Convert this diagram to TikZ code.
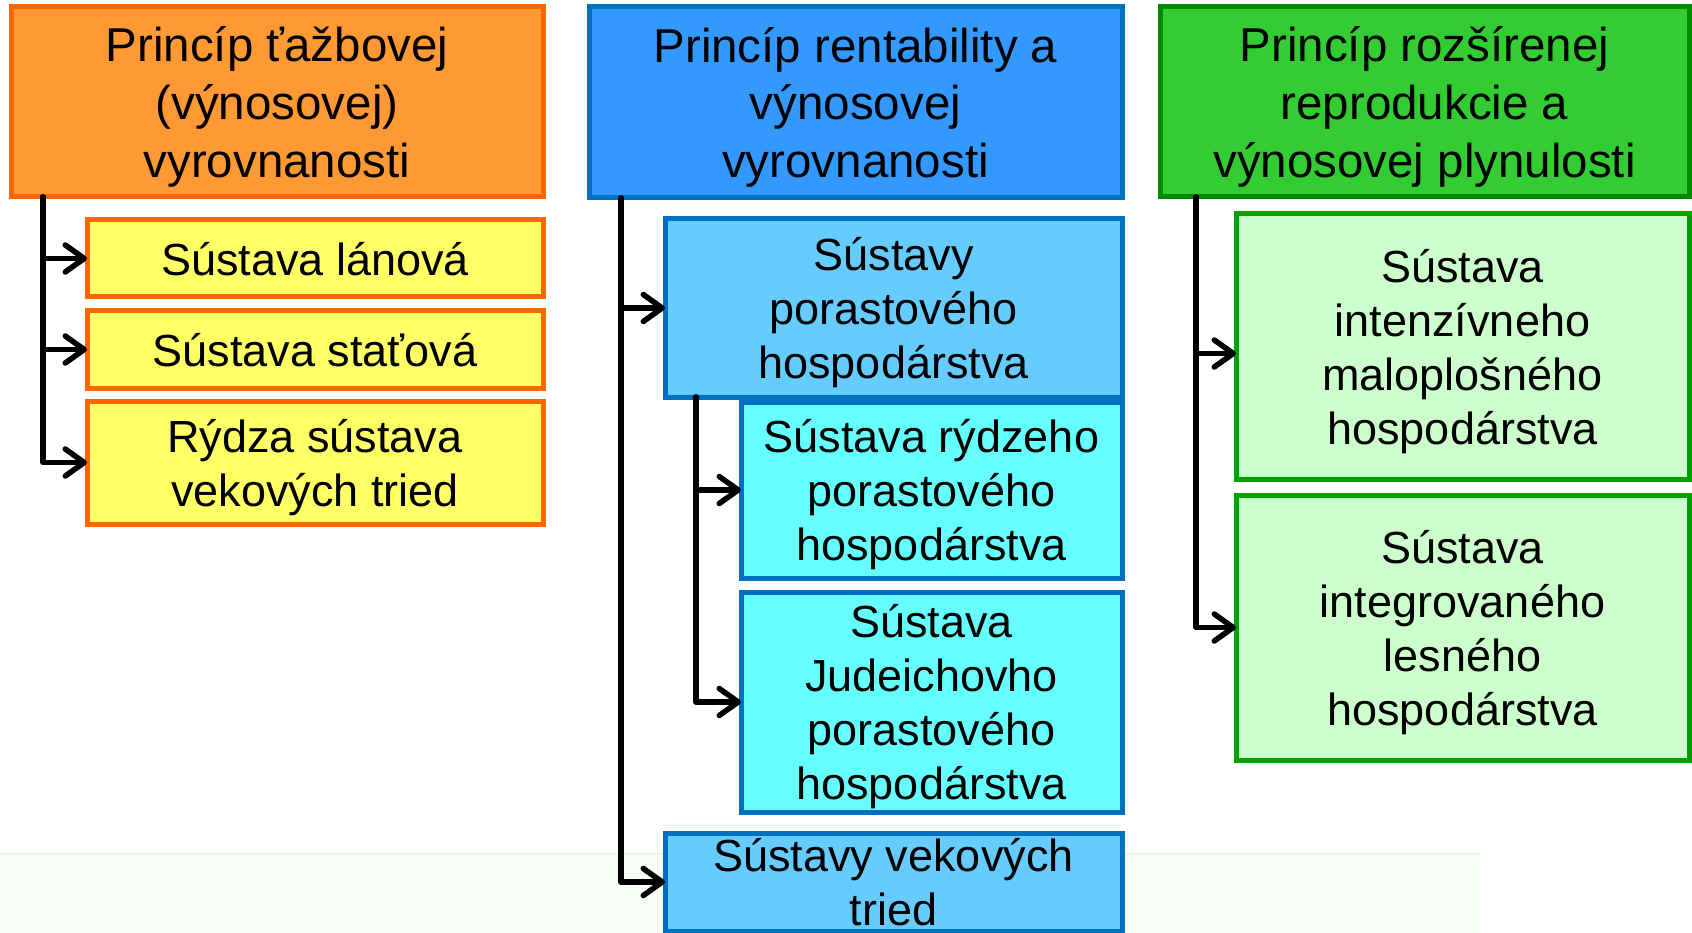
\documentclass[tikz,border=0pt]{standalone}
\usepackage{fontspec}
\setmainfont{Liberation Sans}
\usetikzlibrary{arrows.meta}
\definecolor{orfill}{HTML}{FF9933}
\definecolor{orline}{HTML}{FF6600}
\definecolor{yelfill}{HTML}{FFFF66}
\definecolor{bluefill}{HTML}{3399FF}
\definecolor{blueline}{HTML}{0070C0}
\definecolor{lbfill}{HTML}{66CCFF}
\definecolor{cyfill}{HTML}{66FFFF}
\definecolor{grfill}{HTML}{33CC33}
\definecolor{grline}{HTML}{008A00}
\definecolor{lgfill}{HTML}{CCFFCC}
\definecolor{lgline}{HTML}{00A000}
\definecolor{bgtint}{HTML}{F8FCF6}
\definecolor{bgline}{HTML}{E2F6E2}
\begin{document}
\begin{tikzpicture}[x=1pt,y=-1pt,
  box/.style={draw, line width=5pt, rectangle, inner sep=0pt, outer sep=0pt, anchor=north west, align=center, text=black, text depth=0pt},
  titlebox/.style={box, font=\fontsize{47.5}{57.7}\selectfont},
  subbox/.style={box, font=\fontsize{45}{54}\selectfont},
  conn/.style={line width=5.5pt, -{Straight Barb[length=19pt,width=27pt,round]}, line join=round, line cap=round},
]
\useasboundingbox (0,0) rectangle (1692,933);
% faint background band
\fill[bgtint] (0,853) rectangle (1480,933);
\draw[bgline, line width=1pt] (0,853) -- (1480,853);

% column 1
\node[titlebox, fill=orfill, draw=orline, minimum width=532, minimum height=190] (P1) at (11,7) {Princíp ťažbovej\\(výnosovej)\\vyrovnanosti};
\node[subbox, fill=yelfill, draw=orline, minimum width=456, minimum height=77] (Y1) at (87,220) {Sústava lánová};
\node[subbox, fill=yelfill, draw=orline, minimum width=456, minimum height=77] (Y2) at (87,311) {Sústava staťová};
\node[subbox, fill=yelfill, draw=orline, minimum width=456, minimum height=123] (Y3) at (87,401) {Rýdza sústava\\vekových tried};

% column 2
\node[titlebox, fill=bluefill, draw=blueline, minimum width=533, minimum height=191] (P2) at (589,7) {Princíp rentability a\\výnosovej\\vyrovnanosti};
\node[subbox, fill=lbfill, draw=blueline, minimum width=457, minimum height=178] (B1) at (665,219) {Sústavy\\porastového\\hospodárstva};
\node[subbox, fill=cyfill, draw=blueline, minimum width=381, minimum height=176] (C1) at (741,402) {Sústava rýdzeho\\porastového\\hospodárstva};
\node[subbox, fill=cyfill, draw=blueline, minimum width=381, minimum height=220] (C2) at (741,592) {Sústava\\Judeichovho\\porastového\\hospodárstva};
\node[subbox, fill=lbfill, draw=blueline, minimum width=457, minimum height=98] (B2) at (665,833) {Sústavy vekových\\tried};

% column 3
\node[titlebox, fill=grfill, draw=grline, minimum width=529, minimum height=190] (P3) at (1160,7) {Princíp rozšírenej\\reprodukcie a\\výnosovej plynulosti};
\node[subbox, fill=lgfill, draw=lgline, minimum width=453, minimum height=265] (G1) at (1236,214) {Sústava\\intenzívneho\\maloplošného\\hospodárstva};
\node[subbox, fill=lgfill, draw=lgline, minimum width=453, minimum height=265] (G2) at (1236,495) {Sústava\\integrovaného\\lesného\\hospodárstva};

% connectors
\coordinate (s1) at (43,197);
\coordinate (s2) at (621,198);
\coordinate (s2b) at (696,397);
\coordinate (s3) at (1196,197);
\coordinate (g1in) at ([yshift=-7pt]G1.west);

\draw[conn] (s1) |- (Y1.west);
\draw[conn] (s1) |- (Y2.west);
\draw[conn] (s1) |- (Y3.west);

\draw[conn] (s2) |- (B1.west);
\draw[conn] (s2) |- (B2.west);
\draw[conn] (s2b) |- (C1.west);
\draw[conn] (s2b) |- (C2.west);

\draw[conn] (s3) |- (g1in);
\draw[conn] (s3) |- (G2.west);
\end{tikzpicture}
\end{document}
